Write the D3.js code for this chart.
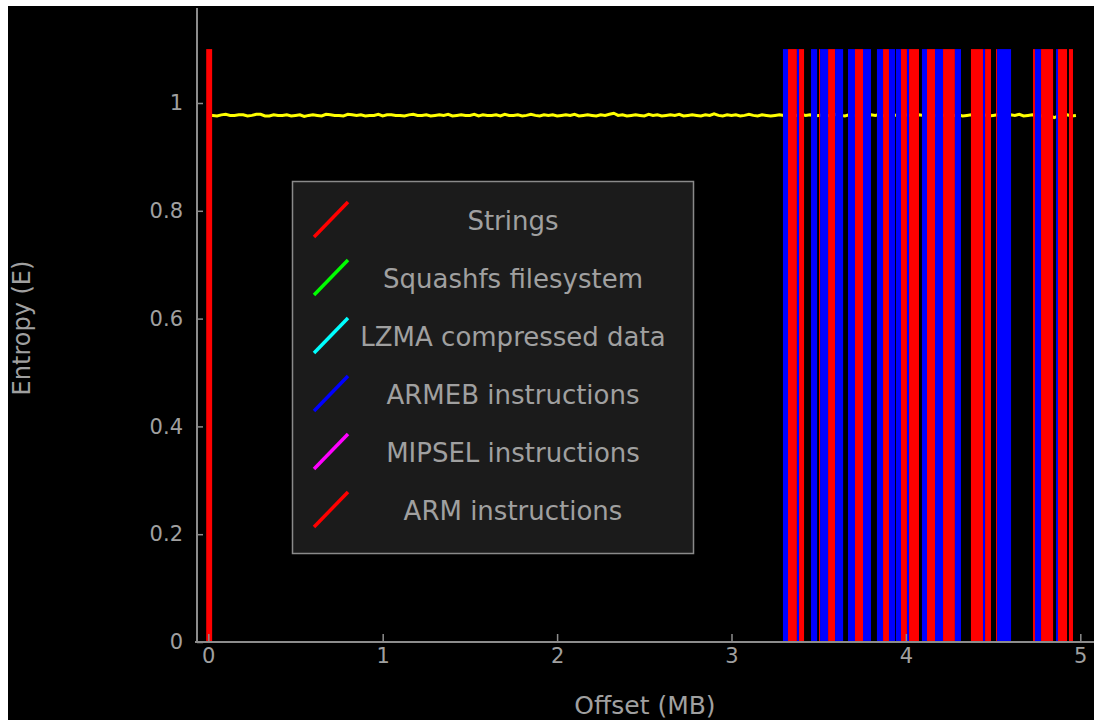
<!DOCTYPE html>
<html>
<head>
<meta charset="utf-8">
<script src="https://cdn.jsdelivr.net/npm/d3@7"></script>
<style>
  html, body { margin: 0; padding: 0; background: #ffffff; }
  svg { display: block; }
  text { font-family: "DejaVu Sans", sans-serif; }
</style>
</head>
<body>
<svg id="chart" width="1094" height="720"></svg>
<script>
// ---------------- data ----------------
const xTicks = [0, 1, 2, 3, 4, 5];
const yTicks = [0, 0.2, 0.4, 0.6, 0.8, 1];
const xLabel = "Offset (MB)";
const yLabel = "Entropy (E)";

// legend entries (signature descriptions)
const legendLabels = ["Strings", "Squashfs filesystem", "LZMA compressed data",
                      "ARMEB instructions", "MIPSEL instructions", "ARM instructions"];
const legendColors = ["#ff0000", "#00ff00", "#00ffff", "#0000ff", "#ff00ff", "#ff0000"];

// entropy samples (offset step 0.025 MB starting at 0)
const entropyStep = 0.025;
const entropyValues = [
  0.978, 0.977, 0.976, 0.978, 0.979, 0.977, 0.977, 0.978, 0.978, 0.976,
  0.977, 0.979, 0.979, 0.976, 0.976, 0.978, 0.977, 0.977, 0.978, 0.976,
  0.977, 0.978, 0.975, 0.977, 0.978, 0.977, 0.976, 0.979, 0.978, 0.977,
  0.977, 0.976, 0.979, 0.978, 0.977, 0.978, 0.976, 0.977, 0.977, 0.979,
  0.976, 0.978, 0.978, 0.977, 0.977, 0.976, 0.978, 0.979, 0.977, 0.977,
  0.978, 0.976, 0.977, 0.978, 0.977, 0.979, 0.976, 0.977, 0.978, 0.977,
  0.977, 0.979, 0.976, 0.978, 0.977, 0.977, 0.978, 0.976, 0.979, 0.977,
  0.977, 0.978, 0.976, 0.977, 0.979, 0.977, 0.976, 0.978, 0.977, 0.978,
  0.976, 0.977, 0.978, 0.977, 0.979, 0.976, 0.977, 0.978, 0.977, 0.976,
  0.978, 0.977, 0.979, 0.981, 0.977, 0.978, 0.976, 0.977, 0.978, 0.977,
  0.976, 0.979, 0.977, 0.978, 0.976, 0.977, 0.978, 0.977, 0.979, 0.976,
  0.977, 0.978, 0.977, 0.976, 0.978, 0.977, 0.980, 0.977, 0.976, 0.978,
  0.977, 0.978, 0.976, 0.977, 0.979, 0.977, 0.976, 0.978, 0.977, 0.976,
  0.977, 0.978, 0.977, 0.976, 0.978, 0.977, 0.979, 0.977, 0.978, 0.976,
  0.977, 0.978, 0.977, 0.976, 0.979, 0.977, 0.976, 0.978, 0.977, 0.978,
  0.976, 0.977, 0.978, 0.977, 0.979, 0.976, 0.977, 0.978, 0.977, 0.976,
  0.978, 0.977, 0.976, 0.978, 0.977, 0.979, 0.976, 0.977, 0.978, 0.977,
  0.976, 0.977, 0.978, 0.976, 0.977, 0.978, 0.974, 0.977, 0.978, 0.976,
  0.977, 0.978, 0.977, 0.976, 0.978, 0.977, 0.979, 0.976, 0.977, 0.978,
  0.977, 0.976, 0.978, 0.977, 0.973, 0.976, 0.977, 0.978, 0.976, 0.977
];

// signature spans: start offset, end offset (MB), legend index
const sigStart = [
  -0.012, 3.295, 3.324, 3.375, 3.387, 3.456, 3.502, 3.508, 3.554, 3.594,
  3.668, 3.708, 3.754, 3.834, 3.869, 3.903, 3.943, 3.972, 4.006, 4.018,
  4.092, 4.121, 4.167, 4.213, 4.281, 4.373, 4.442, 4.454, 4.517, 4.523,
  4.729, 4.740, 4.775, 4.861, 4.872, 4.935
];
const sigEnd = [
  0.022, 3.324, 3.375, 3.387, 3.416, 3.491, 3.508, 3.554, 3.594, 3.640,
  3.708, 3.754, 3.800, 3.869, 3.903, 3.938, 3.972, 4.006, 4.018, 4.075,
  4.121, 4.167, 4.213, 4.281, 4.316, 4.442, 4.454, 4.488, 4.523, 4.603,
  4.740, 4.775, 4.844, 4.872, 4.924, 4.958
];
const sigType = [
  0, 3, 5, 3, 5, 3, 5, 3, 5, 3,
  3, 5, 3, 3, 5, 3, 3, 5, 3, 5,
  3, 5, 3, 5, 3, 5, 3, 5, 5, 3,
  5, 3, 5, 3, 5, 5
];
const sigTop = 1.1;

// ---------------- drawing ----------------
const svg = d3.select("#chart");
const axisColor = "#8c8c8c";
const textColor = "#a0a0a0";

svg.append("rect").attr("x", 8).attr("y", 6).attr("width", 1086).attr("height", 714)
  .attr("fill", "#000000");

const x = d3.scaleLinear().domain([0, 5]).range([208.3, 1080.3]);
const y = d3.scaleLinear().domain([0, 1]).range([642, 103]);

// entropy line
const entropyData = entropyValues.map((v, i) => ({ off: i * entropyStep, e: v }));
svg.append("path")
  .datum(entropyData)
  .attr("fill", "none")
  .attr("stroke", "#ffff00")
  .attr("stroke-width", 3)
  .attr("d", d3.line().x(d => x(d.off)).y(d => y(d.e)));

// signature spans
const sigs = sigStart.map((s, i) => ({ s: s, e: sigEnd[i], t: sigType[i] }));
svg.append("g").selectAll("rect").data(sigs).join("rect")
  .attr("x", d => x(d.s))
  .attr("width", d => x(d.e) - x(d.s))
  .attr("y", y(sigTop))
  .attr("height", y(0) - y(sigTop))
  .attr("fill", d => legendColors[d.t]);

// axes
const xAxis = svg.append("g").attr("transform", `translate(0,${y(0)})`)
  .call(d3.axisBottom(x).tickValues(xTicks).tickSizeInner(-8).tickSizeOuter(0)
        .tickPadding(6).tickFormat(d3.format("d")));
const yAxis = svg.append("g").attr("transform", "translate(197,0)")
  .call(d3.axisLeft(y).tickValues(yTicks).tickSizeInner(-6).tickSizeOuter(0)
        .tickPadding(14).tickFormat(d => String(+d.toFixed(1))));
[xAxis, yAxis].forEach(g => {
  g.select(".domain").remove();
  g.selectAll(".tick line").attr("stroke", axisColor).attr("stroke-width", 1.5);
  g.selectAll(".tick text").attr("fill", textColor).attr("font-size", 21)
    .attr("font-family", "DejaVu Sans, sans-serif");
});

// spines
svg.append("line").attr("x1", 197).attr("x2", 197).attr("y1", 8).attr("y2", y(0) + 1)
  .attr("stroke", axisColor).attr("stroke-width", 2);
svg.append("line").attr("x1", 195).attr("x2", 1094).attr("y1", y(0)).attr("y2", y(0))
  .attr("stroke", axisColor).attr("stroke-width", 2);

// axis labels
svg.append("text").attr("x", 645).attr("y", 714).attr("text-anchor", "middle")
  .attr("fill", textColor).attr("font-size", 25).text(xLabel);
svg.append("text").attr("transform", "translate(30,328) rotate(-90)")
  .attr("text-anchor", "middle").attr("fill", textColor).attr("font-size", 24).text(yLabel);

// legend
const lg = svg.append("g");
lg.append("rect").attr("x", 292.5).attr("y", 181.5).attr("width", 401).attr("height", 372)
  .attr("fill", "#1b1b1b").attr("stroke", "#8a8a8a").attr("stroke-width", 1.5);
legendLabels.forEach((lab, i) => {
  const cy = 221 + i * 58;
  lg.append("line").attr("x1", 314).attr("y1", cy + 16).attr("x2", 348).attr("y2", cy - 19)
    .attr("stroke", legendColors[i]).attr("stroke-width", 3.5);
  lg.append("text").attr("x", 513).attr("y", cy).attr("dy", "0.36em")
    .attr("text-anchor", "middle").attr("fill", textColor).attr("font-size", 26).text(lab);
});
</script>
</body>
</html>
